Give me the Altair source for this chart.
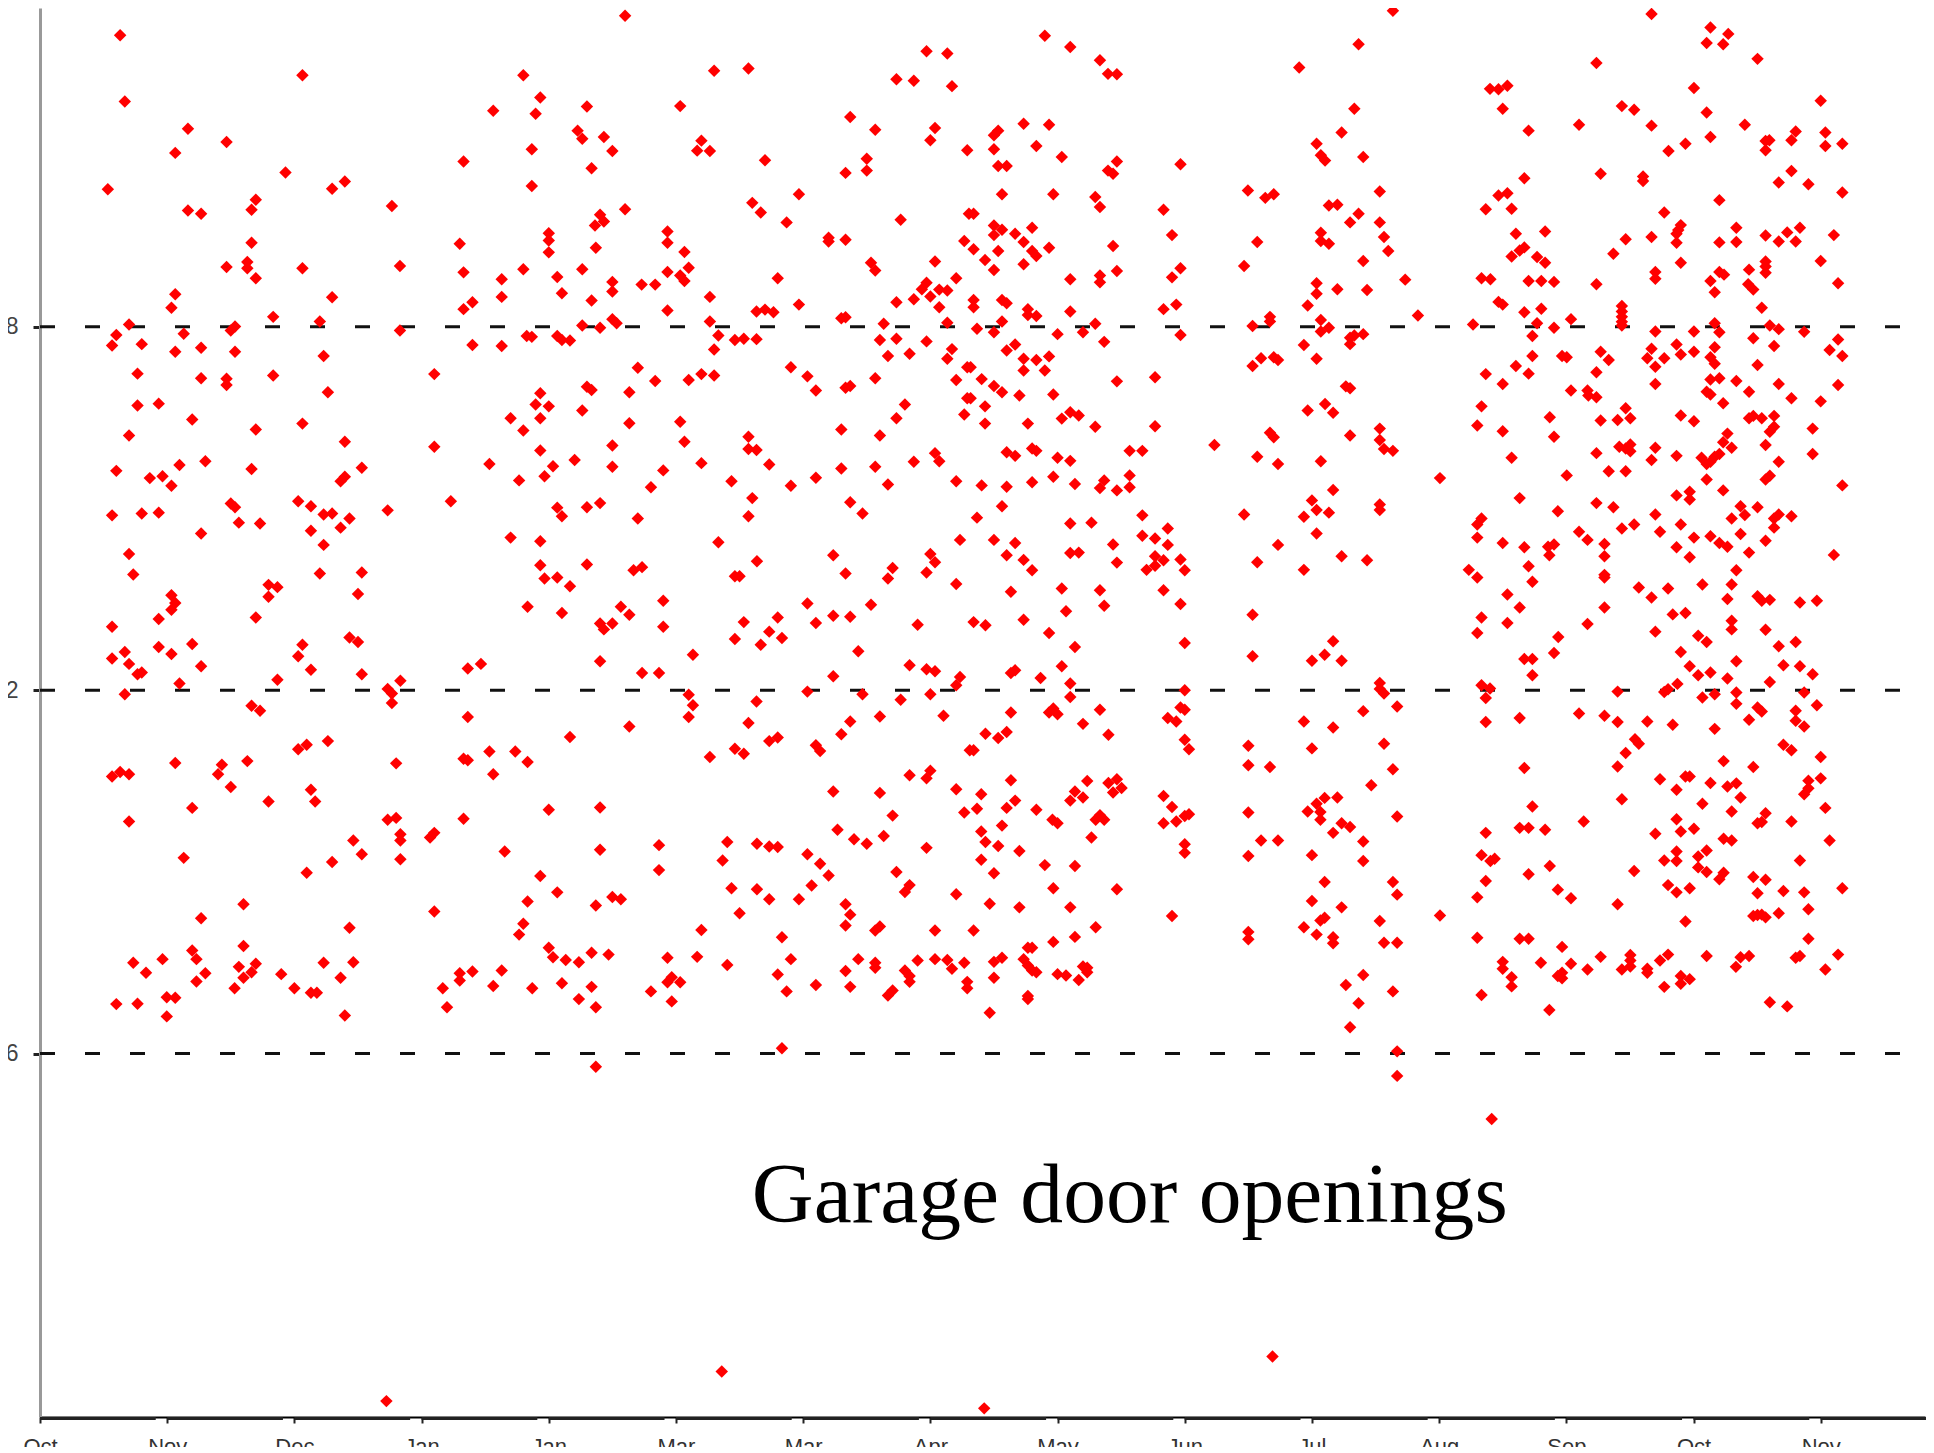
import altair as alt
import pandas as pd

MONTHS = ["Oct", "Nov", "Dec", "Jan", "Jan", "Mar", "Mar", "Apr", "May", "Jun", "Jul", "Aug", "Sep", "Oct", "Nov"]
TICK_DAYS = [i * 30 for i in range(len(MONTHS))]
HOUR_LINES = [6, 14, 22]
HOUR_LABELS = {6: "6", 14: "2", 22: "8"}
ANNOTATION = "Garage door openings"

# (day since the first tick, hour position)
evening_a = [(18.9,28.42),(61.9,27.54),(20.0,26.96),(106.9,26.76),(34.9,26.36),(31.9,25.83),(44.0,26.07),(99.9,25.64),(57.9,25.40),(16.0,25.03),(71.9,25.20),(68.9,25.04),(50.9,24.80),(49.9,24.58),(34.9,24.56),(38.0,24.49),(83.0,24.66),(49.9,23.85),(99.0,23.83),(48.9,23.43),(48.9,23.29),(44.0,23.32),(61.9,23.29),(84.9,23.34),(99.9,23.20),(50.9,23.07),(108.9,23.05),(31.9,22.72),(68.9,22.65),(108.9,22.66),(31.0,22.42),(102.0,22.54),(99.9,22.39),(55.0,22.22),(21.0,22.05),(66.0,22.12),(46.0,22.01),(45.0,21.92),(18.0,21.82),(33.9,21.85),(84.9,21.92),(17.0,21.59),(24.0,21.62),(102.0,21.60),(108.9,21.58),(31.9,21.45),(38.0,21.54),(46.0,21.45),(66.9,21.36),(23.0,20.97),(38.0,20.87),(55.0,20.93),(93.0,20.96),(44.0,20.86),(44.0,20.72),(67.9,20.56),(23.0,20.27),(28.0,20.31),(35.9,19.96),(61.9,19.87),(50.9,19.74),(21.0,19.61),(71.9,19.47),(93.0,19.36),(18.0,18.83),(32.9,18.96),(39.0,19.04),(49.9,18.87),(25.9,18.67),(28.9,18.71),(31.0,18.50),(75.9,18.90),(71.9,18.70),(70.9,18.60),(106.0,18.98),(17.0,17.85),(24.0,17.89),(28.0,17.91),(45.0,18.11),(46.0,18.03),(46.9,17.69),(51.9,17.67),(60.9,18.16),(63.9,18.05),(66.9,17.87),(68.9,17.89),(73.0,17.78),(70.9,17.58),(82.0,17.96),(96.9,18.16),(38.0,17.45),(63.9,17.51),(66.9,17.20)]
daytime_a = [(21.0,17.00),(22.0,16.55),(66.0,16.57),(75.9,16.59),(53.9,16.32),(56.0,16.27),(53.9,16.06),(31.0,16.09),(31.9,15.92),(31.0,15.77),(75.0,16.12),(50.9,15.60),(28.0,15.57),(17.0,15.40),(73.0,15.16),(75.0,15.06),(35.9,15.02),(61.9,15.00),(20.0,14.84),(28.0,14.95),(31.0,14.80),(17.0,14.70),(60.9,14.75),(21.0,14.58),(38.0,14.53),(63.9,14.45),(75.9,14.35),(23.0,14.35),(24.0,14.39),(32.9,14.15),(56.0,14.23),(85.0,14.21),(100.9,14.48),(104.0,14.58),(20.0,13.91),(82.0,14.03),(83.0,13.93),(83.0,13.72),(49.9,13.66),(51.9,13.55),(100.9,13.41),(67.9,12.88),(60.9,12.70),(62.9,12.80),(106.0,12.65),(31.9,12.40),(42.9,12.36),(48.9,12.44),(84.0,12.39),(99.9,12.49),(100.9,12.46),(17.0,12.10),(18.9,12.20),(21.0,12.15),(42.0,12.15),(106.9,12.15),(45.0,11.87),(63.9,11.81),(53.9,11.55),(64.9,11.55),(35.9,11.41),(21.0,11.11),(82.0,11.15),(84.0,11.19),(99.9,11.17),(85.0,10.83),(85.0,10.69),(92.0,10.76),(93.0,10.86),(73.9,10.69),(75.9,10.39),(109.6,10.45),(33.9,10.31),(68.9,10.22),(85.0,10.28),(62.9,9.98),(48.0,9.29),(93.0,9.13),(38.0,8.98),(73.0,8.77),(48.0,8.37),(35.9,8.27),(36.9,8.08),(28.9,8.08),(22.0,8.00),(66.9,8.00),(73.9,8.01),(50.9,7.98),(46.9,7.91),(49.9,7.79),(25.0,7.78),(39.0,7.77),(56.9,7.75),(102.0,7.81),(108.9,7.83),(99.0,7.77),(99.0,7.61),(48.0,7.67),(36.9,7.59),(70.9,7.67),(45.9,7.44),(60.0,7.44),(95.0,7.44),(106.9,7.49),(63.9,7.34),(65.3,7.34),(29.9,7.24),(31.9,7.23),(18.0,7.09),(23.0,7.10),(29.9,6.82),(71.9,6.84),(96.0,7.02)]
evening_b = [(138.0,28.85),(114.0,27.54),(159.0,27.64),(167.1,27.69),(209.1,28.07),(214.0,28.02),(202.0,27.45),(206.1,27.42),(215.1,27.30),(118.0,27.05),(116.9,26.69),(129.0,26.85),(151.0,26.86),(191.1,26.62),(197.0,26.34),(211.1,26.38),(210.0,26.11),(126.8,26.32),(127.9,26.14),(133.0,26.18),(116.0,25.91),(135.0,25.87),(156.0,26.10),(155.0,25.88),(158.0,25.87),(218.7,25.89),(171.0,25.67),(195.0,25.70),(195.0,25.44),(190.0,25.39),(130.1,25.49),(116.0,25.10),(179.0,24.92),(168.0,24.73),(170.0,24.52),(138.0,24.59),(132.1,24.47),(133.0,24.32),(130.9,24.23),(176.1,24.30),(203.0,24.36),(219.1,24.49),(120.0,24.06),(120.0,23.90),(120.0,23.64),(148.0,24.10),(148.0,23.85),(186.0,23.96),(186.0,23.88),(190.0,23.92),(131.1,23.74),(152.0,23.65),(218.0,23.89),(114.0,23.27),(127.9,23.27),(153.0,23.30),(122.0,23.10),(148.0,23.21),(151.0,23.13),(152.0,23.01),(196.0,23.41),(197.0,23.24),(211.1,23.44),(174.0,23.07),(216.1,23.07),(135.0,22.99),(135.0,22.78),(141.9,22.93),(145.1,22.93),(123.1,22.74),(130.1,22.58),(158.0,22.66),(209.1,22.97),(208.0,22.83),(212.1,22.82),(214.0,22.80),(210.0,22.67),(206.1,22.61),(202.0,22.54),(179.0,22.49),(212.1,22.43),(148.0,22.36),(169.0,22.34),(171.0,22.38),(173.0,22.32),(189.0,22.19),(190.0,22.21),(135.0,22.17),(136.0,22.08),(158.0,22.12),(199.0,22.07),(214.0,22.09),(127.9,22.03),(132.1,21.98),(160.0,21.81),(114.8,21.80),(116.0,21.78),(122.0,21.80),(123.1,21.71),(125.0,21.70),(163.9,21.71),(166.0,21.74),(169.0,21.73),(198.1,21.71),(202.0,21.74),(209.1,21.68),(159.0,21.50),(215.1,21.51),(200.0,21.36),(205.1,21.41),(214.0,21.30),(141.0,21.10),(177.1,21.11),(218.7,21.11),(181.0,20.91),(145.1,20.81),(153.0,20.83),(156.0,20.96),(159.0,20.93),(197.0,20.87),(216.1,20.83),(129.0,20.68),(130.1,20.61),(183.0,20.60),(190.0,20.66),(191.1,20.70),(118.0,20.54),(139.0,20.56),(218.7,20.43),(116.9,20.29),(120.0,20.25),(204.0,20.29),(127.9,20.16),(218.0,20.07),(111.0,19.99),(118.0,19.99),(202.0,19.99),(114.0,19.72),(139.0,19.88),(151.0,19.91),(189.0,19.74),(167.1,19.58),(152.0,19.47),(198.1,19.61),(135.0,19.39),(118.0,19.28),(167.1,19.31),(169.0,19.29),(211.1,19.22),(212.1,19.04),(126.1,19.07),(156.0,19.00),(172.0,18.97),(206.1,19.03),(121.0,18.93),(135.0,18.92),(189.0,18.88),(197.0,18.92),(147.0,18.84),(119.0,18.71),(113.0,18.62),(183.0,18.68),(163.1,18.60),(216.1,18.60),(177.1,18.50),(200.0,18.53),(144.1,18.47),(168.0,18.23),(191.1,18.14),(122.0,18.02),(123.1,17.83),(129.0,18.03),(132.1,18.12),(194.0,17.89),(141.0,17.78),(167.1,17.83),(111.0,17.36),(118.0,17.28),(160.0,17.26),(217.0,17.31)]
daytime_b = [(187.1,16.97),(210.0,17.00),(211.1,16.82),(118.0,16.75),(129.0,16.77),(140.0,16.64),(142.0,16.71),(169.1,16.84),(201.1,16.69),(119.0,16.46),(122.0,16.48),(125.0,16.29),(163.9,16.51),(165.0,16.51),(190.0,16.57),(200.0,16.46),(209.1,16.59),(216.1,16.34),(147.0,15.97),(181.0,15.91),(196.0,15.88),(115.0,15.84),(137.0,15.84),(123.1,15.70),(139.0,15.66),(187.1,15.64),(191.1,15.62),(174.0,15.60),(166.0,15.50),(183.0,15.48),(132.1,15.47),(135.0,15.47),(133.0,15.34),(147.0,15.40),(207.0,15.44),(172.0,15.29),(163.9,15.13),(175.0,15.15),(170.0,15.00),(193.0,14.86),(154.0,14.78),(205.1,14.55),(132.1,14.64),(209.1,14.46),(211.1,14.42),(142.0,14.38),(146.0,14.38),(187.1,14.31),(217.0,14.29),(216.1,14.11),(181.0,13.97),(153.0,13.90),(194.0,13.91),(210.0,13.91),(169.0,13.75),(203.0,13.79),(154.0,13.67),(153.0,13.41),(198.1,13.42),(213.1,13.44),(167.1,13.28),(191.1,13.31),(139.0,13.20),(189.0,13.03),(125.0,12.97),(172.0,12.88),(174.0,12.96),(183.0,12.79),(184.0,12.66),(163.9,12.71),(166.0,12.60),(112.1,12.65),(115.0,12.42),(158.0,12.53),(219.3,12.68),(210.0,12.23),(209.1,12.06),(205.1,12.13),(187.1,11.77),(198.1,11.74),(216.1,11.82),(120.0,11.37),(132.1,11.42),(218.0,11.31),(201.1,11.24),(188.1,10.93),(192.0,10.72),(195.0,10.62),(199.0,10.79),(162.1,10.66),(169.1,10.62),(172.0,10.56),(174.0,10.55),(132.1,10.49),(146.0,10.59),(209.1,10.53),(181.0,10.39),(161.0,10.25),(184.0,10.18),(146.0,10.04),(202.0,10.00),(186.0,9.92),(118.0,9.91),(182.0,9.70),(205.1,9.71),(163.1,9.64),(169.1,9.62),(204.0,9.56),(216.1,9.51),(122.0,9.55),(115.0,9.35),(135.0,9.45),(137.0,9.40),(131.1,9.26),(172.0,9.40),(179.0,9.40),(190.0,9.29),(191.1,9.06),(165.0,9.09),(114.0,8.86),(190.0,8.82),(113.0,8.62),(198.1,8.80),(197.0,8.71),(156.0,8.72),(211.1,8.71),(175.0,8.56),(120.0,8.33),(121.0,8.12),(124.0,8.06),(127.1,8.01),(130.1,8.22),(134.1,8.18),(148.0,8.11),(155.0,8.13),(177.1,8.08),(193.0,8.08),(197.0,8.00),(197.0,7.89),(207.0,8.05),(211.1,8.08),(214.0,8.06),(218.0,8.00),(215.1,7.87),(162.1,7.95),(190.0,7.82),(204.0,7.83),(174.0,7.74),(205.1,7.71),(205.1,7.58),(149.0,7.68),(148.0,7.57),(151.0,7.57),(123.1,7.55),(130.1,7.47),(116.1,7.44),(183.0,7.51),(191.1,7.47),(218.7,7.58),(218.7,7.44),(176.1,7.37),(144.1,7.37),(201.1,7.39),(200.0,7.28),(127.1,7.20),(149.0,7.15),(131.1,7.02),(175.0,6.12),(131.1,5.71)]
evening_c = [(319.1,28.96),(237.0,28.41),(243.0,28.16),(250.0,27.87),(311.0,28.22),(297.0,27.71),(251.9,27.57),(254.0,27.56),(310.0,26.80),(232.0,26.47),(238.0,26.45),(226.0,26.32),(225.0,26.22),(307.0,26.28),(301.1,26.03),(235.0,25.98),(225.0,25.91),(241.0,25.74),(302.1,25.78),(303.1,25.66),(312.1,25.74),(254.0,25.64),(226.0,25.54),(228.0,25.54),(269.0,25.58),(251.9,25.44),(253.1,25.37),(226.9,24.92),(239.0,24.92),(284.9,25.00),(291.0,24.92),(289.0,24.84),(316.0,24.98),(248.9,24.86),(250.0,24.64),(265.0,24.58),(304.0,24.67),(306.0,24.69),(220.2,24.49),(311.0,24.49),(309.0,24.30),(316.0,24.30),(225.0,24.23),(234.0,24.18),(226.9,24.14),(230.0,24.05),(225.0,24.02),(267.0,24.02),(302.1,24.07),(317.0,23.98),(302.1,23.89),(232.0,23.87),(287.1,23.87),(304.0,23.83),(253.1,23.78),(238.0,23.74),(220.2,23.71),(234.0,23.67),(235.0,23.56),(226.0,23.67),(318.0,23.67),(222.9,23.47),(232.0,23.38),(312.1,23.45),(284.0,23.34),(225.0,23.25),(269.0,23.29),(254.0,23.23),(250.0,23.13),(250.0,22.98),(243.0,23.05),(267.0,23.09),(322.0,23.04),(301.1,22.96),(301.1,22.73),(306.0,22.83),(313.0,22.81),(220.2,22.59),(220.2,22.43),(226.9,22.59),(228.0,22.52),(268.0,22.49),(299.0,22.47),(233.0,22.39),(265.0,22.39),(243.0,22.34),(233.0,22.26),(235.0,22.24),(290.1,22.22),(226.9,22.12),(290.1,22.12),(248.9,22.07),(302.1,22.15),(325.0,22.25),(221.0,21.96),(286.0,22.02),(304.0,21.98),(225.0,21.88),(246.0,21.88),(240.0,21.84),(269.0,21.82),(302.1,21.90),(312.1,21.84),(310.0,21.81),(309.0,21.76),(251.0,21.67),(309.0,21.62),(230.0,21.61),(228.0,21.48),(298.1,21.60),(238.0,21.35),(232.0,21.30),(235.0,21.27),(291.0,21.33),(292.0,21.27),(288.0,21.31),(301.1,21.30),(286.0,21.14),(232.0,21.04),(237.0,21.04),(219.5,21.11),(222.1,20.85),(225.0,20.70),(254.0,20.80),(263.0,20.89),(226.9,20.56),(231.0,20.49),(239.0,20.51),(308.0,20.69),(309.0,20.65),(219.5,20.43),(222.9,20.25),(303.1,20.30),(299.0,20.16),(305.0,20.11),(243.0,20.12),(245.0,20.05),(241.0,19.98),(222.9,19.87),(233.0,19.87),(248.9,19.80),(263.0,19.81),(316.0,19.76),(309.0,19.61),(290.1,19.67),(291.0,19.57),(316.0,19.51),(277.0,19.40),(234.0,19.32),(235.0,19.27),(228.0,19.24),(230.0,19.16),(317.0,19.31),(319.1,19.27),(257.0,19.27),(260.0,19.27),(287.1,19.14),(240.0,19.12),(243.0,19.05),(292.0,18.98),(302.1,19.04),(257.0,18.73),(239.0,18.70),(234.0,18.58),(244.1,18.54),(222.1,18.51),(228.0,18.48),(251.0,18.62),(250.0,18.45),(254.0,18.40),(257.0,18.47),(305.0,18.41),(300.0,18.18),(226.9,18.05),(301.1,17.97),(316.0,18.09),(316.0,17.97),(221.0,17.80),(260.0,17.85),(284.0,17.87),(298.1,17.82),(304.0,17.91),(243.0,17.67),(248.0,17.69),(266.0,17.56),(260.0,17.40),(263.0,17.34),(225.0,17.31),(230.0,17.24),(301.1,17.45),(253.1,17.21),(266.0,17.20),(292.0,17.20)]
daytime_c = [(228.0,16.97),(232.0,16.87),(234.0,16.64),(243.0,17.02),(245.0,17.03),(254.0,16.81),(263.0,16.95),(265.0,16.86),(263.0,16.74),(261.0,16.65),(269.0,16.88),(270.0,16.64),(287.1,16.82),(298.1,16.65),(307.0,16.95),(313.0,16.86),(229.0,16.17),(241.0,16.24),(250.0,16.20),(251.0,15.86),(265.0,16.20),(269.0,15.90),(242.0,15.74),(286.0,15.66),(232.0,15.55),(220.2,15.50),(223.0,15.43),(238.0,15.26),(270.0,15.04),(305.0,15.08),(244.1,14.95),(303.0,14.78),(286.0,14.75),(300.0,14.65),(307.0,14.65),(241.0,14.53),(229.0,14.38),(230.0,14.44),(236.0,14.27),(243.0,14.15),(316.0,14.16),(316.0,14.03),(317.0,13.93),(270.0,14.00),(243.0,13.85),(269.0,13.62),(270.0,13.57),(320.1,13.64),(229.0,13.51),(238.0,13.51),(239.0,13.60),(240.0,13.47),(250.0,13.57),(312.1,13.54),(266.0,13.39),(268.0,13.31),(246.0,13.26),(298.1,13.31),(223.0,13.04),(226.0,12.95),(228.0,13.08),(252.0,13.02),(305.0,13.18),(270.0,12.91),(220.2,12.68),(271.0,12.70),(285.0,12.78),(300.0,12.72),(317.0,12.82),(285.0,12.35),(290.1,12.31),(319.1,12.26),(229.0,12.02),(247.0,12.00),(252.0,11.96),(254.0,12.04),(255.1,11.85),(253.1,11.75),(314.0,11.91),(222.0,11.71),(244.1,11.77),(243.0,11.57),(246.0,11.64),(230.0,11.57),(228.0,11.41),(221.0,11.39),(235.0,11.37),(265.0,11.67),(267.0,11.43),(271.0,11.27),(270.0,11.23),(268.0,11.11),(265.0,11.07),(285.0,11.31),(299.0,11.33),(301.1,11.50),(303.0,11.63),(306.0,11.64),(302.0,11.32),(302.0,11.15),(307.0,11.07),(309.0,10.99),(320.1,11.22),(238.8,11.15),(240.0,11.07),(250.0,11.25),(249.0,11.15),(251.0,11.15),(226.9,11.02),(222.0,10.89),(305.0,10.86),(248.0,10.76),(223.0,10.66),(226.0,10.57),(270.0,10.61),(270.0,10.42),(288.0,10.69),(292.0,10.69),(312.1,10.67),(231.0,10.46),(285.0,10.35),(300.0,10.37),(222.0,10.27),(312.1,10.24),(237.0,10.15),(244.1,10.13),(225.0,9.97),(303.0,9.78),(319.1,9.78),(239.0,9.64),(254.0,9.62),(320.1,9.50),(300.0,9.36),(224.0,9.30),(231.0,9.22),(243.0,9.22),(307.0,9.22),(267.0,9.03),(303.0,8.99),(302.0,8.93),(316.0,8.92),(249.0,8.78),(220.2,8.71),(298.1,8.78),(244.1,8.57),(285.0,8.68),(285.0,8.52),(301.1,8.62),(305.0,8.56),(305.0,8.43),(317.0,8.44),(320.1,8.44),(239.0,8.46),(233.0,8.33),(234.0,8.33),(226.9,8.11),(225.0,8.02),(232.0,8.08),(233.0,7.94),(234.0,7.83),(235.0,7.79),(246.0,7.92),(247.0,7.89),(247.0,7.79),(240.0,7.75),(242.0,7.72),(225.0,7.67),(245.0,7.62),(312.1,7.73),(308.0,7.51),(233.0,7.27),(233.0,7.20),(319.1,7.37),(311.0,7.11),(224.0,6.90),(309.0,6.58),(320.1,6.05),(320.1,5.51)]
evening_d = [(380.1,28.89),(394.0,28.59),(398.2,28.45),(393.1,28.25),(397.0,28.22),(405.1,27.90),(367.1,27.81),(346.1,27.31),(342.0,27.24),(344.0,27.23),(390.1,27.26),(420.0,26.98),(373.1,26.86),(376.0,26.78),(345.0,26.80),(393.1,26.72),(363.0,26.45),(380.1,26.43),(402.1,26.45),(351.1,26.32),(414.1,26.30),(421.1,26.28),(394.0,26.18),(413.1,26.11),(407.9,26.11),(407.0,26.09),(388.1,26.03),(425.1,26.03),(421.1,25.98),(407.0,25.89),(384.1,25.87),(413.1,25.43),(368.1,25.37),(378.1,25.31),(378.1,25.21),(350.1,25.27),(410.1,25.18),(417.1,25.14),(346.1,24.94),(344.0,24.89),(425.1,24.96),(396.1,24.79),(341.0,24.59),(347.1,24.60),(383.1,24.52),(355.0,24.10),(348.1,24.05),(400.1,24.18),(387.0,24.24),(386.4,24.13),(386.0,24.05),(415.1,24.18),(412.1,24.08),(407.0,24.01),(380.1,23.98),(374.0,23.93),(423.1,24.02),(410.1,23.88),(414.1,23.88),(396.1,23.86),(400.1,23.87),(386.0,23.85),(350.1,23.75),(349.0,23.68),(371.1,23.61),(347.1,23.55),(353.1,23.54),(355.0,23.41),(387.0,23.41),(407.0,23.44),(420.0,23.45),(407.0,23.33),(381.0,23.21),(396.1,23.21),(397.2,23.15),(403.1,23.26),(407.0,23.19),(340.0,23.07),(342.1,23.05),(351.1,23.01),(354.1,23.01),(357.1,22.99),(381.0,23.06),(394.0,23.01),(367.1,22.94),(424.1,22.96),(402.9,22.94),(404.1,22.82),(395.0,22.76),(344.0,22.55),(345.0,22.49),(354.1,22.40),(350.1,22.32),(406.1,22.42),(373.1,22.46),(373.1,22.34),(373.1,22.22),(373.1,22.11),(361.1,22.17),(353.1,22.08),(395.0,22.08),(338.0,22.05),(357.1,21.98),(408.0,22.03),(410.1,21.95),(373.1,22.03),(381.0,21.90),(390.1,21.90),(396.1,21.88),(416.1,21.89),(352.0,21.80),(404.1,21.75),(424.1,21.72),(386.0,21.61),(409.0,21.58),(380.1,21.52),(395.0,21.55),(422.1,21.49),(368.1,21.45),(390.1,21.45),(387.0,21.39),(352.0,21.36),(359.0,21.36),(360.1,21.33),(370.0,21.27),(379.1,21.31),(383.1,21.31),(394.0,21.33),(425.1,21.36),(395.0,21.19),(348.1,21.14),(381.0,21.12),(405.1,21.16),(341.0,20.96),(351.1,20.97),(367.1,21.00),(394.0,20.84),(396.1,20.87),(400.1,20.81),(345.0,20.74),(381.0,20.74),(410.1,20.74),(424.1,20.72),(361.1,20.60),(365.0,20.60),(365.2,20.49),(367.1,20.45),(393.1,20.57),(394.0,20.51),(403.1,20.57),(413.1,20.43),(420.0,20.36),(397.0,20.32),(340.0,20.25),(374.0,20.21),(356.1,20.01),(387.0,20.05),(368.1,19.94),(372.1,19.95),(375.1,19.99),(390.1,19.92),(403.1,19.99),(404.1,20.04),(406.1,19.99),(409.0,20.04),(339.0,19.83),(345.0,19.70),(409.0,19.80),(408.0,19.69),(418.1,19.76),(398.0,19.65),(357.1,19.58),(397.0,19.46),(407.0,19.40),(372.5,19.36),(374.0,19.32),(375.1,19.41),(375.1,19.26),(381.0,19.34),(399.0,19.34),(396.1,19.20),(367.1,19.22),(386.0,19.16),(391.9,19.12),(395.0,19.14),(393.1,18.98),(394.0,19.03),(418.1,19.20),(347.1,19.12),(380.1,19.07),(410.1,19.03),(370.0,18.82),(374.0,18.82),(360.1,18.73),(330.2,18.67),(393.1,18.64),(408.0,18.72),(407.0,18.64),(397.0,18.40),(425.1,18.51),(349.0,18.23),(386.0,18.29),(389.1,18.37),(389.1,18.20),(367.1,18.12),(371.1,18.03),(401.1,18.05),(405.1,18.03),(358.0,17.94),(402.1,17.86),(410.1,17.87),(409.0,17.78),(413.1,17.83),(381.0,17.87),(340.0,17.78),(339.0,17.65),(399.0,17.78),(376.0,17.65),(387.0,17.65),(373.1,17.56),(409.0,17.58),(363.0,17.49),(382.1,17.49),(339.0,17.36),(365.0,17.31),(390.1,17.36),(394.0,17.39),(401.1,17.44),(407.0,17.29),(345.0,17.24),(369.0,17.22),(357.1,17.21),(396.1,17.24),(355.7,17.16),(398.0,17.16),(350.1,17.15),(386.0,17.15)]
daytime_d = [(356.0,16.97),(369.0,16.95),(389.1,16.93),(403.1,17.03),(423.1,16.98),(337.0,16.65),(339.0,16.48),(351.1,16.73),(352.0,16.39),(369.0,16.54),(369.0,16.48),(400.1,16.64),(377.1,16.26),(384.0,16.24),(392.1,16.33),(399.0,16.33),(380.1,16.04),(346.1,16.11),(398.0,16.01),(405.1,16.07),(406.1,15.97),(408.0,15.99),(415.1,15.93),(419.1,15.97),(349.0,15.82),(369.0,15.82),(385.1,15.67),(388.1,15.70),(340.0,15.60),(346.1,15.48),(365.0,15.46),(399.0,15.53),(399.0,15.34),(339.0,15.26),(381.0,15.29),(407.0,15.33),(358.1,15.17),(391.1,15.20),(393.1,15.06),(414.1,15.06),(410.1,14.97),(357.1,14.82),(387.0,14.84),(350.1,14.69),(352.0,14.69),(400.1,14.64),(411.2,14.55),(415.1,14.53),(389.1,14.53),(394.0,14.39),(391.1,14.33),(418.1,14.35),(352.0,14.33),(398.0,14.26),(408.0,14.18),(340.0,14.11),(342.0,14.04),(386.2,14.14),(384.0,14.02),(383.1,13.96),(372.1,13.97),(400.1,13.95),(395.0,13.91),(416.1,13.95),(341.0,13.83),(392.1,13.84),(400.1,13.70),(419.1,13.67),(405.1,13.62),(406.1,13.53),(414.1,13.55),(363.0,13.49),(369.0,13.44),(349.0,13.39),(341.0,13.30),(372.1,13.30),(379.1,13.31),(403.1,13.35),(414.1,13.33),(385.1,13.24),(416.1,13.20),(395.0,13.15),(376.2,12.92),(377.1,12.82),(411.2,12.80),(413.1,12.68),(374.0,12.62),(420.0,12.53),(397.1,12.44),(372.1,12.32),(350.1,12.29),(404.1,12.31),(388.1,12.10),(389.1,12.10),(382.1,12.04),(420.0,12.06),(417.1,12.01),(394.0,11.96),(400.1,11.95),(398.0,11.88),(386.0,11.81),(417.1,11.84),(416.1,11.71),(401.1,11.64),(373.1,11.60),(392.1,11.50),(352.0,11.44),(421.1,11.41),(399.0,11.33),(407.0,11.29),(386.0,11.16),(406.1,11.10),(405.1,11.07),(364.1,11.11),(413.1,11.11),(349.0,10.97),(351.1,10.97),(355.0,10.93),(390.1,10.95),(341.0,10.86),(387.0,10.89),(381.0,10.84),(397.1,10.73),(399.0,10.69),(422.1,10.69),(386.0,10.45),(393.1,10.47),(340.0,10.37),(391.1,10.34),(343.1,10.29),(342.1,10.24),(383.1,10.25),(386.0,10.24),(415.1,10.25),(356.1,10.13),(391.1,10.10),(351.1,9.95),(376.0,10.02),(393.1,10.00),(397.1,9.98),(396.1,9.84),(404.1,9.89),(407.0,9.83),(341.0,9.80),(384.0,9.71),(389.1,9.64),(358.0,9.61),(386.0,9.55),(405.1,9.53),(411.2,9.58),(416.1,9.55),(425.1,9.64),(339.0,9.44),(361.1,9.42),(372.1,9.29),(417.1,9.18),(404.1,9.03),(405.1,9.05),(406.1,9.06),(407.0,9.00),(410.1,9.09),(388.1,8.91),(330.2,9.04),(339.0,8.55),(349.0,8.53),(351.1,8.53),(417.1,8.53),(359.0,8.35),(368.1,8.13),(375.1,8.17),(384.0,8.18),(393.1,8.15),(403.1,8.15),(415.1,8.15),(414.1,8.11),(401.1,8.12),(424.1,8.18),(375.1,8.05),(382.1,8.05),(345.0,8.02),(354.0,8.00),(361.1,7.98),(375.1,7.92),(345.0,7.87),(365.0,7.85),(373.1,7.85),(379.1,7.87),(379.1,7.78),(400.0,7.91),(421.1,7.85),(359.0,7.78),(358.0,7.71),(359.0,7.66),(347.1,7.68),(387.0,7.71),(389.1,7.64),(387.0,7.54),(347.1,7.48),(383.1,7.47),(340.0,7.29),(408.0,7.13),(412.1,7.04),(356.0,6.96)]
early_hours = [(342.4,4.56),(81.7,-1.65),(160.8,-1.0),(222.7,-1.81),(290.7,-0.67)]

openings = evening_a + daytime_a + evening_b + daytime_b + evening_c + daytime_c + evening_d + daytime_d + early_hours
points = pd.DataFrame(openings, columns=["day", "hour"])

x_scale = alt.Scale(domain=[0, 444.6], nice=False, zero=False)
y_scale = alt.Scale(domain=[-2, 29.02], nice=False, zero=False)

label_table = "{" + ",".join(f"'{k}':'{v}'" for k, v in HOUR_LABELS.items()) + "}"
month_table = "[" + ",".join(f"'{m}'" for m in MONTHS) + "]"

x_axis = alt.Axis(values=TICK_DAYS, labelExpr=f"{month_table}[round(datum.value/30)]", title=None, grid=False,
                  domainColor="#000000", domainWidth=2, tickColor="#222222", tickWidth=2, tickSize=6,
                  labelFont="Liberation Sans", labelFontSize=22, labelColor="#333333", labelPadding=13,
                  labelBaseline="top", labelFlush=False, labelOverlap=False)
y_axis = alt.Axis(values=HOUR_LINES, labelExpr=f"{label_table}[datum.value]", title=None, grid=False,
                  domainColor="#999999", domainWidth=3, tickColor="#222222", tickWidth=3, tickSize=7,
                  labelFont="Liberation Sans", labelFontSize=23, labelColor="#444444", labelPadding=15,
                  labelFlush=False, labelOverlap=False)

grid = pd.DataFrame({"start": [0] * len(HOUR_LINES), "end": [438.7] * len(HOUR_LINES), "hour": HOUR_LINES})
rules = alt.Chart(grid).mark_rule(color="#111111", strokeWidth=3, strokeDash=[15, 30]).encode(
    x=alt.X("start:Q", scale=x_scale, axis=x_axis),
    x2="end:Q",
    y=alt.Y("hour:Q", scale=y_scale, axis=y_axis),
)

band = pd.DataFrame({"start": TICK_DAYS, "end": [d + 27.3 for d in TICK_DAYS]})
axis_band = alt.Chart(band).mark_rule(color="#222222", strokeWidth=3).encode(
    x=alt.X("start:Q", scale=x_scale),
    x2="end:Q",
    y=alt.value(1410.5),
)

dots = alt.Chart(points).mark_point(shape="diamond", filled=True, color="#ff0000", opacity=1, size=155, strokeWidth=0).encode(
    x=alt.X("day:Q", scale=x_scale),
    y=alt.Y("hour:Q", scale=y_scale),
)

note = alt.Chart(pd.DataFrame({"day": [167.9], "hour": [2.29], "text": [ANNOTATION]})).mark_text(
    font="Liberation Serif", fontSize=85.6, color="#000000", align="left", baseline="alphabetic"
).encode(
    x=alt.X("day:Q", scale=x_scale),
    y=alt.Y("hour:Q", scale=y_scale),
    text="text:N",
)

chart = alt.layer(rules, axis_band, dots, note).properties(
    width=1885, height=1409,
    autosize=alt.AutoSizeParams(type="none"),
    padding={"left": 32, "top": 0, "right": 1, "bottom": 30},
    background="#ffffff",
).configure_view(stroke=None)

chart.save("out.html", embed_options={"renderer": "svg", "actions": False})
